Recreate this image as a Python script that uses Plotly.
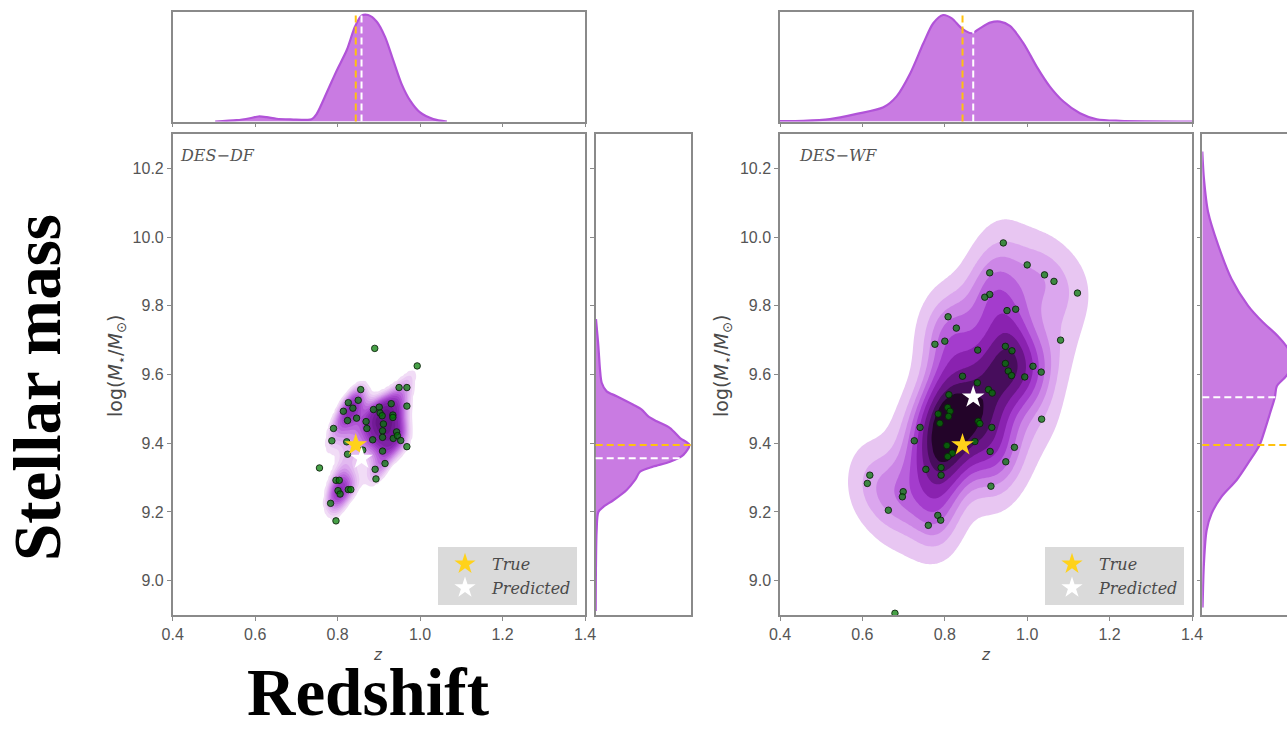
import numpy as np
import plotly.graph_objects as go

# ---------------- DATA ----------------
# DES-DF scatter samples (redshift z, log stellar mass)
df_z = [0.856, 0.949, 0.968, 0.968, 0.930, 0.850, 0.826, 0.814, 0.837, 0.824, 0.846, 0.887,
        0.901, 0.903, 0.908, 0.911, 0.934, 0.934, 0.869, 0.871, 0.909, 0.909, 0.885, 0.935,
        0.943, 0.945, 0.953, 0.968, 0.790, 0.786, 0.822, 0.824, 0.861, 0.909, 0.915, 0.891,
        0.893, 0.756, 0.796, 0.804, 0.801, 0.806, 0.826, 0.832, 0.783, 0.796, 0.890, 0.993]
df_m = [9.556, 9.562, 9.562, 9.508, 9.515, 9.525, 9.518, 9.493, 9.502, 9.466, 9.473, 9.498,
        9.505, 9.488, 9.480, 9.456, 9.482, 9.475, 9.463, 9.443, 9.436, 9.417, 9.410, 9.414,
        9.433, 9.422, 9.408, 9.390, 9.443, 9.407, 9.404, 9.368, 9.380, 9.377, 9.341, 9.324,
        9.296, 9.328, 9.292, 9.292, 9.262, 9.252, 9.265, 9.265, 9.225, 9.174, 9.676, 9.625]

# DES-WF scatter samples
wf_z = [0.942, 1.000, 1.042, 1.065, 1.122, 0.909, 0.909, 0.897, 0.951, 0.972, 0.808, 0.828,
        0.776, 0.800, 0.880, 1.081, 0.947, 0.963, 0.947, 0.954, 0.962, 1.014, 1.034, 0.843,
        0.994, 0.879, 0.906, 0.915, 0.810, 0.807, 0.813, 0.809, 0.784, 0.788, 0.881, 0.885,
        0.914, 0.740, 0.726, 0.805, 0.873, 0.818, 0.807, 0.910, 0.969, 1.035, 0.948, 0.754,
        0.791, 0.791, 0.618, 0.612, 0.699, 0.697, 0.912, 0.663, 0.783, 0.790, 0.760, 0.679]
wf_m = [9.983, 9.919, 9.890, 9.871, 9.837, 9.896, 9.833, 9.825, 9.786, 9.790, 9.768, 9.735,
        9.688, 9.697, 9.671, 9.700, 9.682, 9.669, 9.632, 9.610, 9.597, 9.624, 9.607, 9.595,
        9.593, 9.576, 9.556, 9.546, 9.541, 9.504, 9.493, 9.478, 9.485, 9.458, 9.464, 9.457,
        9.446, 9.446, 9.407, 9.393, 9.405, 9.371, 9.361, 9.376, 9.388, 9.470, 9.346, 9.324,
        9.329, 9.307, 9.307, 9.283, 9.259, 9.244, 9.275, 9.205, 9.190, 9.176, 9.161, 8.905]

# True / predicted values
df_true = (0.844, 9.395)
df_pred = (0.858, 9.356)
wf_true = (0.843, 9.395)
wf_pred = (0.869, 9.534)

# Marginal densities (normalised to panel height)
df_top_z = [0.503, 0.555, 0.587, 0.608, 0.628, 0.652, 0.693, 0.725, 0.737, 0.749, 0.774, 0.798,
            0.822, 0.842, 0.858, 0.874, 0.895, 0.915, 0.935, 0.955, 0.976, 1.000, 1.032, 1.065]
df_top_d = [0.0, 0.012, 0.03, 0.046, 0.04, 0.025, 0.018, 0.015, 0.02, 0.068, 0.268, 0.468,
            0.652, 0.868, 0.969, 0.975, 0.914, 0.775, 0.560, 0.345, 0.191, 0.083, 0.022, 0.0]

df_right_m = [8.912, 9.146, 9.200, 9.215, 9.234, 9.264, 9.293, 9.317, 9.332, 9.346, 9.366, 9.395,
              9.415, 9.444, 9.464, 9.478, 9.498, 9.512, 9.537, 9.551, 9.576, 9.615, 9.683, 9.761]
df_right_d = [0.0, 0.01, 0.028, 0.08, 0.185, 0.325, 0.413, 0.465, 0.605, 0.78, 0.92, 0.983,
              0.885, 0.78, 0.64, 0.552, 0.483, 0.395, 0.22, 0.115, 0.063, 0.045, 0.028, 0.003]

wf_top_z = [0.4, 0.457, 0.521, 0.586, 0.651, 0.683, 0.716, 0.748, 0.772, 0.796, 0.817, 0.841,
            0.865, 0.885, 0.91, 0.934, 0.958, 0.991, 1.023, 1.055, 1.088, 1.128, 1.169, 1.225, 1.4]
wf_top_d = [0.004, 0.006, 0.022, 0.07, 0.13, 0.23, 0.44, 0.716, 0.90, 0.975, 0.945, 0.853,
            0.808, 0.853, 0.905, 0.915, 0.875, 0.716, 0.503, 0.32, 0.183, 0.076, 0.021, 0.006, 0.0]

wf_right_m = [8.922, 9.049, 9.146, 9.195, 9.244, 9.293, 9.342, 9.395, 9.439, 9.488, 9.534, 9.566,
              9.596, 9.635, 9.674, 9.712, 9.752, 9.800, 9.878, 9.976, 10.074, 10.171, 10.249]
wf_right_d = [0.003, 0.017, 0.045, 0.097, 0.20, 0.36, 0.48, 0.60, 0.655, 0.71, 0.76, 0.78,
              0.88, 0.95, 0.90, 0.79, 0.635, 0.48, 0.306, 0.167, 0.06, 0.017, 0.0]

x_ticks = [0.4, 0.6, 0.8, 1.0, 1.2, 1.4]
y_ticks = [9.0, 9.2, 9.4, 9.6, 9.8, 10.0, 10.2]
x_range = [0.4, 1.4]
y_range = [8.9, 10.3]

# ---------------- HELPERS ----------------
W, H = 1287, 731


def kde2d(xs, ys, xg, yg, bw_adjust=1.0, diag=False):
    xs = np.asarray(xs); ys = np.asarray(ys)
    data = np.vstack([xs, ys])
    n = data.shape[1]
    factor = n ** (-1.0 / 6.0) * bw_adjust
    cov = np.cov(data) * factor ** 2
    if diag:
        cov = np.diag(np.diag(cov))
    inv = np.linalg.inv(cov)
    X, Y = np.meshgrid(xg, yg)
    dx = X[..., None] - xs
    dy = Y[..., None] - ys
    q = inv[0, 0] * dx * dx + 2 * inv[0, 1] * dx * dy + inv[1, 1] * dy * dy
    return np.exp(-0.5 * q).sum(-1)


def iso_levels(dens, nlev, thresh=0.05):
    quant = np.linspace(thresh, 1, nlev)
    vals = np.sort(dens.ravel())[::-1]
    cum = np.cumsum(vals) / vals.sum()
    idx = np.searchsorted(cum, 1 - quant)
    return np.take(vals, idx, mode="clip")


def hex2rgb(h):
    h = h.lstrip('#')
    return [int(h[i:i + 2], 16) for i in (0, 2, 4)]


def interp_colors(anchors, n):
    rgbs = np.array([hex2rgb(a) for a in anchors], float)
    pos = np.linspace(0, 1, len(anchors))
    out = []
    for t in np.linspace(0, 1, n):
        c = [np.interp(t, pos, rgbs[:, k]) for k in range(3)]
        out.append('rgb(%d,%d,%d)' % tuple(int(round(v)) for v in c))
    return out


def contour_trace(xs, ys, nlev, band_colors, xa, ya, bw=1.0, thresh=0.05, diag=False):
    xg = np.linspace(0.3, 1.5, 240)
    yg = np.linspace(8.7, 10.5, 240)
    dens = kde2d(xs, ys, xg, yg, bw, diag)
    lev = iso_levels(dens, nlev, thresh)
    lev = np.maximum.accumulate(lev + np.arange(nlev) * 1e-12)
    zmap = np.interp(dens, np.concatenate([[0.0], lev]), np.arange(-1, nlev))
    nc = nlev - 1
    cs = [[0.0, 'rgba(255,255,255,0)']]
    for k in range(1, nc + 1):
        cs.append([k / nc, band_colors[k - 1]])
    return go.Contour(x=xg, y=yg, z=zmap, xaxis=xa, yaxis=ya,
                      contours=dict(start=0, end=nlev - 2, size=1, coloring='fill', showlines=False),
                      line=dict(width=0, smoothing=1.0), colorscale=cs, showscale=False,
                      hoverinfo='skip', showlegend=False)


FILL = 'rgba(198,116,224,0.95)'
EDGE = '#b153d8'
GOLD = '#FFD21A'
GOLD_LINE = '#FFC20E'
PT_COLOR = 'rgba(0,125,0,0.72)'
PT_EDGE = 'rgba(10,30,10,0.85)'

fig = go.Figure()

panels = [
    dict(z=df_z, m=df_m, true=df_true, pred=df_pred, tz=df_top_z, td=df_top_d,
         rm=df_right_m, rd=df_right_d, nlev=15, thresh=0.2, diag=False,
         colors=interp_colors(['#f1dcf6', '#d9a3ec', '#b65cd9', '#8e2bb8', '#661487'], 14),
         ax=('x', 'y'), top=('x2', 'y2'), right=('x3', 'y3'), legend='legend', bw=0.75),
    dict(z=wf_z, m=wf_m, true=wf_true, pred=wf_pred, tz=wf_top_z, td=wf_top_d,
         rm=wf_right_m, rd=wf_right_d, nlev=10, thresh=0.09, diag=True,
         colors=['#e8c6f2', '#dba6ee', '#cc86e6', '#b961dc', '#a43ccd', '#8a22b0', '#6a1588',
                 '#470d5c', '#230429'],
         ax=('x4', 'y4'), top=('x5', 'y5'), right=('x6', 'y6'), legend='legend2', bw=0.8),
]

for p in panels:
    xa, ya = p['ax']
    fig.add_trace(contour_trace(p['z'], p['m'], p['nlev'], p['colors'], xa, ya, bw=p['bw'],
                                thresh=p['thresh'], diag=p['diag']))
    fig.add_trace(go.Scatter(x=p['z'], y=p['m'], mode='markers', xaxis=xa, yaxis=ya,
                             marker=dict(size=6.5, color=PT_COLOR, line=dict(color=PT_EDGE, width=1)),
                             showlegend=False, hoverinfo='skip'))
    fig.add_trace(go.Scatter(x=[p['true'][0]], y=[p['true'][1]], mode='markers', xaxis=xa, yaxis=ya,
                             marker=dict(symbol='star', size=17, color=GOLD, line=dict(width=0)),
                             name='<i>True</i>', legend=p['legend']))
    fig.add_trace(go.Scatter(x=[p['pred'][0]], y=[p['pred'][1]], mode='markers', xaxis=xa, yaxis=ya,
                             marker=dict(symbol='star', size=17, color='white', line=dict(width=0)),
                             name='<i>Predicted</i>', legend=p['legend']))
    tx, ty = p['top']
    fig.add_trace(go.Scatter(x=p['tz'], y=p['td'], mode='lines', xaxis=tx, yaxis=ty,
                             fill='tozeroy', fillcolor=FILL, line=dict(color=EDGE, width=2.2, shape='spline', smoothing=0.8),
                             showlegend=False, hoverinfo='skip'))
    rx, ry = p['right']
    fig.add_trace(go.Scatter(x=p['rd'], y=p['rm'], mode='lines', xaxis=rx, yaxis=ry,
                             fill='tozerox', fillcolor=FILL, line=dict(color=EDGE, width=2.2, shape='spline', smoothing=0.8),
                             showlegend=False, hoverinfo='skip'))
    for val, col in ((p['true'], GOLD_LINE), (p['pred'], 'white')):
        fig.add_shape(type='line', xref=tx, yref=ty + ' domain', x0=val[0], x1=val[0], y0=0, y1=1,
                      line=dict(color=col, width=2, dash='7px,4px'))
        fig.add_shape(type='line', xref=rx + ' domain', yref=ry, x0=0, x1=1, y0=val[1], y1=val[1],
                      line=dict(color=col, width=2, dash='7px,4px'))

# ---------------- LAYOUT ----------------
main_y = [1 - 615 / H, 1 - 134 / H]
top_y = [1 - 121.5 / H, 1 - 12.3 / H]
L_x = [172.7 / W, 585 / W]
L_rx = [595.7 / W, 691 / W]
R_x = [780 / W, 1192 / W]
R_rx = [1202.3 / W, 1.0]

FRAME = dict(showline=True, linecolor='#8a8a8a', linewidth=1.5, showgrid=False, zeroline=False)
TICKF = dict(size=16, color='#555555', family='Liberation Sans')


def main_x(dom, anchor):
    return dict(domain=dom, anchor=anchor, range=x_range, tickvals=x_ticks, tickformat='.1f',
                ticks='outside', ticklen=4, tickcolor='#8a8a8a', mirror=True, tickfont=TICKF, **FRAME)


def main_yax(anchor):
    return dict(domain=main_y, anchor=anchor, range=y_range, tickvals=y_ticks, tickformat='.1f',
                ticks='outside', ticklen=4, tickcolor='#8a8a8a', mirror=True, tickfont=TICKF, **FRAME)


def top_x(dom, anchor):
    return dict(domain=dom, anchor=anchor, range=x_range, tickvals=x_ticks, showticklabels=False,
                ticks='outside', ticklen=4, tickcolor='#8a8a8a', mirror=True, **FRAME)


def top_yax(anchor):
    return dict(domain=top_y, anchor=anchor, range=[0, 1.0], showticklabels=False, ticks='',
                mirror=True, **FRAME)


def right_x(dom, anchor, rng):
    return dict(domain=dom, anchor=anchor, range=rng, showticklabels=False, ticks='', mirror=True, **FRAME)


def right_yax(anchor, mirror):
    return dict(domain=main_y, anchor=anchor, range=y_range, tickvals=y_ticks, showticklabels=False,
                ticks='outside', ticklen=4, tickcolor='#8a8a8a', mirror=mirror, **FRAME)


LEG = dict(yanchor='bottom', xanchor='right', bgcolor='rgba(214,214,214,0.9)', borderwidth=0,
           itemwidth=44, font=dict(family='DejaVu Serif', size=16, color='#4a4a4a'))

fig.update_layout(
    width=W, height=H, margin=dict(l=0, r=0, t=0, b=0, pad=0, autoexpand=False),
    paper_bgcolor='white', plot_bgcolor='white',
    font=dict(family='Liberation Sans'),
    xaxis=main_x(L_x, 'y'), yaxis=main_yax('x'),
    xaxis2=top_x(L_x, 'y2'), yaxis2=top_yax('x2'),
    xaxis3=right_x(L_rx, 'y3', [0, 1.0]), yaxis3=right_yax('x3', True),
    xaxis4=main_x(R_x, 'y4'), yaxis4=main_yax('x4'),
    xaxis5=top_x(R_x, 'y5'), yaxis5=top_yax('x5'),
    xaxis6=right_x(R_rx, 'y6', [0, (1287 - 1202.3) / 95.5]), yaxis6=right_yax('x6', False),
    legend=dict(x=577 / W, y=1 - 605 / H, **LEG),
    legend2=dict(x=1184 / W, y=1 - 605 / H, **LEG),
)

ann = []
for cx, lab in ((178, 'DES\u2212DF'), (797, 'DES\u2212WF')):
    ann.append(dict(x=cx / W, y=1 - 155 / H, xref='paper', yref='paper', xanchor='left', yanchor='middle',
                    text='<i>' + lab + '</i>', showarrow=False,
                    font=dict(family='DejaVu Serif', size=16, color='#555555')))
for cx in (378, 986):
    ann.append(dict(x=cx / W, y=1 - 655 / H, xref='paper', yref='paper', xanchor='center', yanchor='middle',
                    text='<i>z</i>', showarrow=False,
                    font=dict(family='DejaVu Sans', size=15, color='#4a4a4a')))
for cx in (116, 722):
    ann.append(dict(x=cx / W, y=1 - 366 / H, xref='paper', yref='paper', xanchor='center', yanchor='middle',
                    text='log(<i>M</i><sub>\u22c6</sub>/<i>M</i><sub>\u2299</sub>)', textangle=-90,
                    showarrow=False, font=dict(family='DejaVu Sans', size=19, color='#4a4a4a')))
ann.append(dict(x=37 / W, y=1 - 388 / H, xref='paper', yref='paper', xanchor='center', yanchor='middle',
                text='<b>Stellar mass</b>', textangle=-90, showarrow=False,
                font=dict(family='Liberation Serif', size=67, color='black')))
ann.append(dict(x=368 / W, y=0, xref='paper', yref='paper', xanchor='center', yanchor='bottom',
                text='<b>Redshift</b>', showarrow=False,
                font=dict(family='Liberation Serif', size=67, color='black')))
fig.update_layout(annotations=ann)

fig.write_html("out.html")
